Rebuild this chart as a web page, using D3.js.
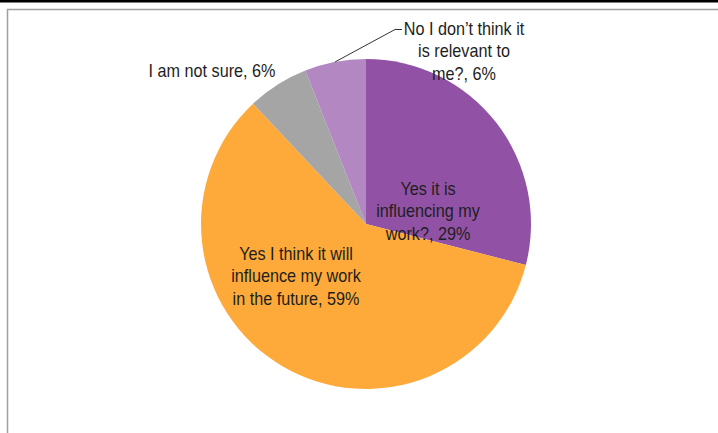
<!DOCTYPE html>
<html>
<head>
<meta charset="utf-8">
<script src="https://cdn.jsdelivr.net/npm/d3@7"></script>
<style>
  html, body { margin: 0; padding: 0; background: #fff; }
  svg { display: block; }
  text { font-family: "Liberation Sans", Arial, sans-serif; font-size: 18px; fill: #1e1e1e; }
</style>
</head>
<body>
<svg id="chart" width="718" height="433"></svg>
<script>
// Survey answers, drawn clockwise from 12 o'clock
const categories = [
  "Yes it is influencing my work?",
  "Yes I think it will influence my work in the future",
  "I am not sure",
  "No I don\u2019t think it is relevant to me?"
];
const values = [29, 59, 6, 6];
const colors = ["#9152A5", "#FDAA3A", "#A5A5A5", "#B387C1"];
// Label lines as they wrap on the chart
const labelLines = [
  ["Yes it is", "influencing my", "work?, 29%"],
  ["Yes I think it will", "influence my work", "in the future, 59%"],
  ["I am not sure, 6%"],
  ["No I don\u2019t think it", "is relevant to", "me?, 6%"]
];

const W = 718, H = 433;
const svg = d3.select("#chart");

// Frame: dark band at top, thin grey borders
svg.append("rect").attr("x", 0).attr("y", 0).attr("width", W).attr("height", 2.5).attr("fill", "#000");
svg.append("line").attr("x1", 7).attr("x2", W).attr("y1", 9.5).attr("y2", 9.5)
  .attr("stroke", "#a0a0a0").attr("stroke-width", 1.5);
svg.append("line").attr("x1", 7.5).attr("x2", 7.5).attr("y1", 9).attr("y2", H)
  .attr("stroke", "#a0a0a0").attr("stroke-width", 1.5);

const cx = 366, cy = 224, r = 165;
const g = svg.append("g").attr("transform", `translate(${cx},${cy})`);

const pie = d3.pie().sort(null).value(d => d.value);
const data = pie(categories.map((c, i) => ({ name: c, value: values[i], i })));
const arc = d3.arc().innerRadius(0).outerRadius(r);

g.selectAll("path.slice").data(data).enter().append("path")
  .attr("class", "slice")
  .attr("d", arc)
  .attr("fill", d => colors[d.data.i]);

// Label blocks (center x, first baseline y); type is slightly condensed
const lineH = 22.5;
const squeeze = 0.9;
const labelPos = [
  { x: 428, y: 195 },
  { x: 296, y: 260 },
  { x: 212, y: 77 },
  { x: 464, y: 35 }
];

labelLines.forEach((lines, i) => {
  const p = labelPos[i];
  const t = svg.append("text")
    .attr("text-anchor", "middle")
    .attr("transform", `translate(${p.x},${p.y}) scale(${squeeze},1)`);
  lines.forEach((ln, k) => {
    t.append("tspan").attr("x", 0).attr("y", k * lineH).text(ln);
  });
});

// Leader line for the small top slice
const last = data[3];
const mid = (last.startAngle + last.endAngle) / 2;
const ex = cx + r * Math.sin(mid), ey = cy - r * Math.cos(mid);
svg.append("path")
  .attr("d", `M${ex},${ey} L395,29.5 L402,29.5`)
  .attr("fill", "none").attr("stroke", "#333").attr("stroke-width", 1);
</script>
</body>
</html>
